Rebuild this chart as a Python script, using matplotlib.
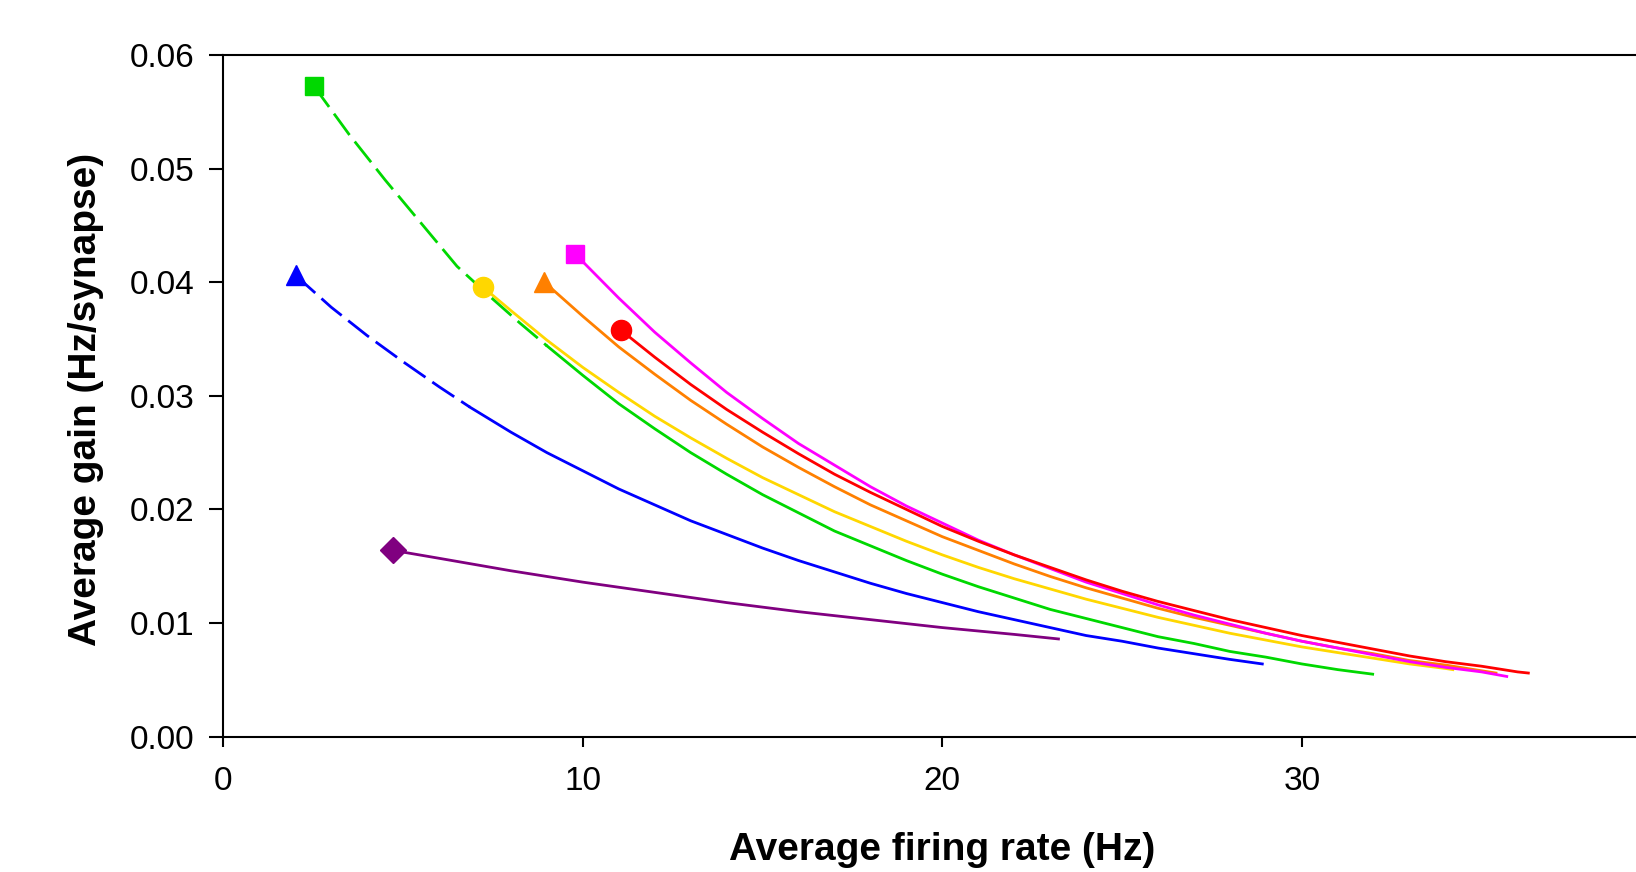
import matplotlib
matplotlib.use("Agg")
import matplotlib.pyplot as plt

plt.rcParams['font.family'] = ['Liberation Sans', 'DejaVu Sans']

# values

# green: dashed start, then solid
green_dash_x = [2.51, 3.5, 4.5, 5.5, 6.5, 7.5, 8.25, 9.0]
green_dash_y = [0.0573, 0.0530, 0.0490, 0.0452, 0.0414, 0.0385, 0.0364, 0.0344]
green_x = [9.0, 10, 11, 12, 13, 14, 15, 16, 17, 18, 19, 20, 21, 22, 23, 24,
           25, 26, 27, 28, 29, 30, 31, 31.97]
green_y = [0.0344, 0.0318, 0.0293, 0.0271, 0.0250, 0.0231, 0.0213, 0.0197,
           0.0181, 0.0168, 0.0155, 0.0143, 0.0132, 0.0122, 0.0112, 0.0104,
           0.0096, 0.0088, 0.0082, 0.0075, 0.0070, 0.0064, 0.0059, 0.0055]

# blue: dashed start, then solid
blue_dash_x = [2.01, 3.0, 4.0, 5.0, 6.0, 6.86]
blue_dash_y = [0.0406, 0.0378, 0.0353, 0.0330, 0.0308, 0.0290]
blue_x = [6.86, 8, 9, 10, 11, 12, 13, 14, 15, 16, 17, 18, 19, 20, 21, 22,
          23, 24, 25, 26, 27, 28, 28.9]
blue_y = [0.0290, 0.0268, 0.0250, 0.0234, 0.0218, 0.0204, 0.0190, 0.0178,
          0.0166, 0.0155, 0.0145, 0.0135, 0.0126, 0.0118, 0.0110, 0.0103,
          0.0096, 0.0089, 0.0084, 0.0078, 0.0073, 0.0068, 0.0064]

purple_x = [4.71, 6, 8, 10, 12, 14, 16, 18, 20, 22, 23.23]
purple_y = [0.0164, 0.0157, 0.0146, 0.0136, 0.0127, 0.0118, 0.0110, 0.0103,
            0.0096, 0.0090, 0.0086]

yellow_x = [7.21, 8, 9, 10, 11, 12, 13, 14, 15, 16, 17, 18, 19, 20, 21, 22,
            23, 24, 25, 26, 27, 28, 29, 30, 31, 32, 33, 34, 34.2]
yellow_y = [0.0396, 0.0375, 0.0349, 0.0325, 0.0303, 0.0282, 0.0263, 0.0245,
            0.0228, 0.0213, 0.0198, 0.0185, 0.0172, 0.0160, 0.0149, 0.0139,
            0.0130, 0.0121, 0.0113, 0.0105, 0.0098, 0.0091, 0.0085, 0.0079,
            0.0074, 0.0069, 0.0064, 0.0060, 0.0059]

orange_x = [8.93, 10, 11, 12, 13, 14, 15, 16, 17, 18, 19, 20, 21, 22, 23, 24,
            25, 26, 27, 28, 29, 30, 31, 32, 33, 34, 35, 35.4]
orange_y = [0.0400, 0.0370, 0.0343, 0.0319, 0.0296, 0.0275, 0.0255, 0.0237,
            0.0220, 0.0204, 0.0190, 0.0176, 0.0164, 0.0152, 0.0141, 0.0131,
            0.0122, 0.0113, 0.0105, 0.0098, 0.0091, 0.0084, 0.0078, 0.0073,
            0.0067, 0.0063, 0.0058, 0.0056]

magenta_x = [9.78, 10, 11, 12, 13, 14, 15, 16, 17, 18, 19, 20, 21, 22, 23, 24,
             25, 26, 27, 28, 29, 30, 31, 32, 33, 34, 35, 35.7]
magenta_y = [0.0425, 0.0418, 0.0386, 0.0356, 0.0329, 0.0303, 0.0280, 0.0258,
             0.0239, 0.0220, 0.0203, 0.0188, 0.0173, 0.0160, 0.0148, 0.0136,
             0.0126, 0.0116, 0.0107, 0.0099, 0.0091, 0.0084, 0.0078, 0.0072,
             0.0066, 0.0061, 0.0057, 0.0053]

red_x = [11.05, 12, 13, 14, 15, 16, 17, 18, 19, 20, 21, 22, 23, 24, 25, 26,
         27, 28, 29, 30, 31, 32, 33, 34, 35, 36, 36.3]
red_y = [0.0358, 0.0334, 0.0310, 0.0288, 0.0268, 0.0249, 0.0231, 0.0215,
         0.0200, 0.0185, 0.0172, 0.0160, 0.0149, 0.0138, 0.0128, 0.0119,
         0.0111, 0.0103, 0.0096, 0.0089, 0.0083, 0.0077, 0.0071, 0.0066,
         0.0062, 0.0057, 0.0056]

GREEN = '#00d800'
BLUE = '#0000ff'
PURPLE = '#800080'
YELLOW = '#ffd700'
ORANGE = '#ff8000'
MAGENTA = '#ff00ff'
RED = '#ff0000'

fig = plt.figure(figsize=(16.36, 8.72), dpi=100)
ax = fig.add_axes([0.1365, 0.1552, 0.879, 0.7818])

lw = 2.0
dash = (9.5, 3)
ax.plot(purple_x, purple_y, color=PURPLE, lw=lw)
ax.plot(blue_dash_x, blue_dash_y, color=BLUE, lw=lw, dashes=dash)
ax.plot(blue_x, blue_y, color=BLUE, lw=lw)
ax.plot(green_x, green_y, color=GREEN, lw=lw)
ax.plot(yellow_x, yellow_y, color=YELLOW, lw=lw)
ax.plot(green_dash_x, green_dash_y, color=GREEN, lw=lw, dashes=dash)
ax.plot(orange_x, orange_y, color=ORANGE, lw=lw)
ax.plot(magenta_x, magenta_y, color=MAGENTA, lw=lw)
ax.plot(red_x, red_y, color=RED, lw=lw)

# start markers
ax.plot(purple_x[0], purple_y[0], 'D', color=PURPLE, ms=13)
ax.plot(blue_dash_x[0], blue_dash_y[0], '^', color=BLUE, ms=15)
ax.plot(green_dash_x[0], green_dash_y[0], 's', color=GREEN, ms=13.5)
ax.plot(yellow_x[0], yellow_y[0], 'o', color=YELLOW, ms=14.5)
ax.plot(orange_x[0], orange_y[0], '^', color=ORANGE, ms=15)
ax.plot(magenta_x[0], magenta_y[0], 's', color=MAGENTA, ms=13.5)
ax.plot(red_x[0], red_y[0], 'o', color=RED, ms=14.5)

ax.set_xlim(0, 40)
ax.set_ylim(0, 0.06)
ax.set_xticks([0, 10, 20, 30])
ax.set_yticks([0, 0.01, 0.02, 0.03, 0.04, 0.05, 0.06])
ax.set_yticklabels(['%.2f' % v for v in ax.get_yticks()])

for s in ['left', 'bottom', 'top', 'right']:
    ax.spines[s].set_linewidth(1.5)
ax.tick_params(axis='x', direction='out', length=7, width=1.5, pad=14, labelsize=24)
ax.tick_params(axis='y', direction='out', length=10, width=1.5, pad=11, labelsize=24)

ax.set_xlabel('Average firing rate (Hz)', fontsize=28, fontweight='bold')
ax.set_ylabel('Average gain (Hz/synapse)', fontsize=28, fontweight='bold')
ax.xaxis.set_label_coords(0.5, -0.166)
ax.xaxis.label.set_verticalalignment('center')
ax.yaxis.set_label_coords(-0.0955, 0.495)
ax.yaxis.label.set_verticalalignment('center')

fig.savefig('out.png', dpi=100)
